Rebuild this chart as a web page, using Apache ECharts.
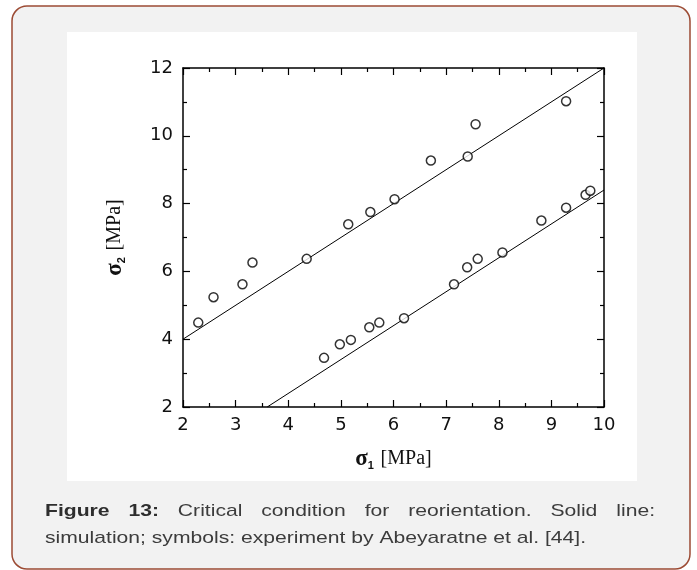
<!DOCTYPE html>
<html><head><meta charset="utf-8">
<script src="https://cdn.jsdelivr.net/npm/echarts/dist/echarts.min.js"></script>
<style>html,body{margin:0;padding:0;background:#fff}#c{width:697px;height:570px}</style>
</head><body><div id="c"></div>
<script>
// ---- data ----
const xTickValues = [2, 3, 4, 5, 6, 7, 8, 9, 10];
const xTickLabels = ['2', '3', '4', '5', '6', '7', '8', '9', '10'];
const yTickValues = [2, 4, 6, 8, 10, 12];
const yTickLabels = ['2', '4', '6', '8', '10', '12'];
const upperSimulation = [[2, 4], [10, 12]];
const lowerSimulation = [[3.6, 2], [10, 8.4]];
const upperExperiment = [[2.29, 4.49], [2.58, 5.24], [3.13, 5.62], [3.32, 6.26], [4.35, 6.37], [5.14, 7.39],
  [5.56, 7.75], [6.02, 8.13], [6.71, 9.27], [7.41, 9.39], [7.56, 10.34], [9.28, 11.02]];
const lowerExperiment = [[4.68, 3.45], [4.98, 3.85], [5.19, 3.98], [5.54, 4.35], [5.73, 4.49], [6.20, 4.62],
  [7.15, 5.62], [7.40, 6.12], [7.60, 6.37], [8.07, 6.56], [8.81, 7.50], [9.28, 7.88], [9.65, 8.26], [9.74, 8.38]];
const captionLine1 = [['Figure', true], ['13:', true], ['Critical', false], ['condition', false], ['for', false],
  ['reorientation.', false], ['Solid', false], ['line:', false]];
const captionLine2 = 'simulation; symbols: experiment by Abeyaratne et al. [44].';

// ---- caption layout ----
const CAP_SIZE = 17;
const ctx = document.createElement('canvas').getContext('2d');
function tw(t, bold) { ctx.font = (bold ? 'bold ' : '') + CAP_SIZE + 'px "Liberation Sans"'; return ctx.measureText(t).width; }
const capLeft = 45, capRight1 = 655, capRight2 = 586;
const sx = (capRight2 - capLeft) / tw(captionLine2, false);
const widths = captionLine1.map(w => tw(w[0], w[1]));
const sumW = widths.reduce((a, b) => a + b, 0);
const gap = ((capRight1 - capLeft) / sx - sumW) / (captionLine1.length - 1);
let cx = 0;
const line1Els = captionLine1.map((w, i) => {
  const el = { type: 'text', x: cx, y: 0, style: { text: w[0], fill: w[1] ? '#2e2e2e' : '#3c3c3c',
    font: (w[1] ? 'bold ' : '') + CAP_SIZE + 'px "Liberation Sans"', align: 'left', verticalAlign: 'middle' } };
  cx += widths[i] + gap;
  return el;
});

const chart = echarts.init(document.getElementById('c'), null, { renderer: 'canvas' });
const fmt = (vals, labs) => v => { const i = vals.indexOf(v); return i >= 0 ? labs[i] : ''; };
const axisBase = {
  axisLine: { show: true, onZero: false, lineStyle: { color: '#000', width: 1.5 } },
  axisTick: { show: true, inside: true, length: 7, lineStyle: { color: '#000', width: 1.2 } },
  minorTick: { show: true, splitNumber: 2, length: 4, lineStyle: { color: '#000', width: 1.2 } },
  splitLine: { show: false }
};
const nameRich = {
  s: { fontFamily: 'Liberation Serif', fontSize: 23, fontWeight: 'bold', color: '#111', lineHeight: 24, verticalAlign: 'middle' },
  sub: { fontFamily: 'Liberation Sans', fontSize: 11, fontWeight: 'bold', color: '#111', lineHeight: 12, verticalAlign: 'bottom' },
  u: { fontFamily: 'Liberation Serif', fontSize: 20, color: '#111', lineHeight: 24, verticalAlign: 'middle' }
};
const option = {
  animation: false,
  backgroundColor: '#fff',
  graphic: [
    { type: 'rect', z: -10, shape: { x: 12, y: 6, width: 678, height: 563, r: 15 },
      style: { fill: '#f2f2f2', stroke: '#9c4b34', lineWidth: 1.5 } },
    { type: 'rect', z: -9, shape: { x: 67, y: 32, width: 570, height: 449 }, style: { fill: '#fff' } },
    { type: 'group', x: capLeft, y: 511, scaleX: sx, children: line1Els },
    { type: 'text', x: capLeft, y: 538, scaleX: sx, style: { text: captionLine2, fill: '#3c3c3c',
      font: CAP_SIZE + 'px "Liberation Sans"', align: 'left', verticalAlign: 'middle' } }
  ],
  grid: { left: 183, right: 93, top: 68, bottom: 163, containLabel: false },
  xAxis: [
    Object.assign({}, axisBase, { type: 'value', position: 'bottom', min: 2, max: 10, interval: 1,
      name: '{s|σ}{sub|1}  {u|[MPa]}', nameLocation: 'middle', nameGap: 40,
      nameTextStyle: { rich: nameRich },
      axisLabel: { margin: 9, fontFamily: 'DejaVu Sans', fontSize: 18, color: '#111', formatter: fmt(xTickValues, xTickLabels) } }),
    Object.assign({}, axisBase, { type: 'value', position: 'top', min: 2, max: 10, interval: 1,
      axisLabel: { show: false } })
  ],
  yAxis: [
    Object.assign({}, axisBase, { type: 'value', position: 'left', min: 2, max: 12, interval: 2,
      name: '{s|σ}{sub|2}  {u|[MPa]}', nameLocation: 'middle', nameGap: 56, nameRotate: 90,
      nameTextStyle: { rich: nameRich },
      axisLabel: { margin: 10, fontFamily: 'DejaVu Sans', fontSize: 18, color: '#111', formatter: fmt(yTickValues, yTickLabels) } }),
    Object.assign({}, axisBase, { type: 'value', position: 'right', min: 2, max: 12, interval: 2,
      axisLabel: { show: false } })
  ],
  series: [
    { name: 'simulation upper', type: 'line', data: upperSimulation, showSymbol: false, symbol: 'none',
      lineStyle: { color: '#000', width: 1 }, z: 2 },
    { name: 'simulation lower', type: 'line', data: lowerSimulation, showSymbol: false, symbol: 'none',
      lineStyle: { color: '#000', width: 1 }, z: 2 },
    { name: 'experiment upper', type: 'scatter', data: upperExperiment, symbol: 'circle', symbolSize: 9,
      itemStyle: { color: '#fff', borderColor: '#000', borderWidth: 1.5 }, z: 3 },
    { name: 'experiment lower', type: 'scatter', data: lowerExperiment, symbol: 'circle', symbolSize: 9,
      itemStyle: { color: '#fff', borderColor: '#000', borderWidth: 1.5 }, z: 3 }
  ]
};
chart.setOption(option);
</script></body></html>
